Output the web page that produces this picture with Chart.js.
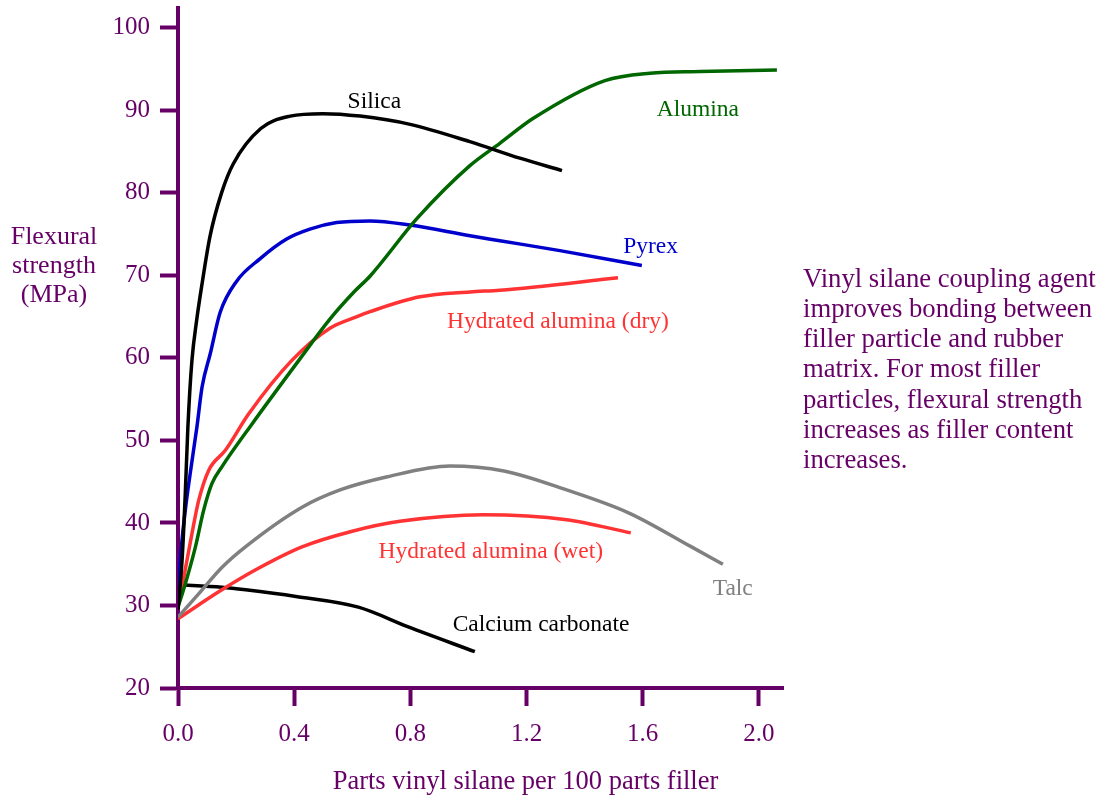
<!DOCTYPE html>
<html>
<head>
<meta charset="utf-8">
<script src="https://cdn.jsdelivr.net/npm/chart.js@4"></script>
<style>
    body { margin: 0; background: #fff; }
    #wrap { width: 1101px; height: 797px; }
</style>
</head>
<body>
<div id="wrap"><canvas id="flexChart" width="1101" height="797"></canvas></div>
<script>
// values (x = parts silane per 100 parts filler, y = MPa)
const silicaX = [0, 0.014, 0.025, 0.034, 0.048, 0.064, 0.082, 0.110, 0.150, 0.190, 0.285, 0.386, 0.499, 0.627, 0.799, 1.005, 1.177, 1.322];
const silicaY = [29.5, 35.5, 43.5, 51.6, 59.7, 64.5, 68.8, 74.7, 80.0, 83.5, 87.8, 89.3, 89.6, 89.3, 88.3, 86.2, 84.2, 82.7];

const pyrexX = [0, 0.008, 0.025, 0.042, 0.065, 0.083, 0.111, 0.145, 0.202, 0.282, 0.374, 0.454, 0.546, 0.661, 0.799, 1.005, 1.108, 1.315, 1.597];
const pyrexY = [30.2, 35.5, 41.5, 46.0, 51.6, 56.5, 60.5, 65.5, 69.3, 72.0, 74.4, 75.6, 76.4, 76.6, 76.1, 74.8, 74.2, 73.0, 71.2];

const aluminaX = [0, 0.025, 0.060, 0.088, 0.117, 0.151, 0.255, 0.416, 0.523, 0.609, 0.661, 0.823, 1.005, 1.108, 1.222, 1.470, 1.625, 1.797, 2.062];
const aluminaY = [29.8, 32.6, 37.1, 41.5, 44.8, 46.8, 52.0, 59.7, 64.7, 68.1, 69.9, 76.9, 83.3, 86.0, 89.0, 93.6, 94.5, 94.7, 94.9];

const dryX = [0, 0.020, 0.048, 0.071, 0.106, 0.163, 0.243, 0.392, 0.523, 0.616, 0.661, 0.833, 1.005, 1.108, 1.515];
const dryY = [29.8, 33.4, 38.7, 42.7, 46.4, 48.8, 53.2, 59.7, 63.6, 65.0, 65.6, 67.4, 68.0, 68.2, 69.7];

const talcX = [0, 0.071, 0.151, 0.232, 0.427, 0.558, 0.721, 0.936, 1.122, 1.338, 1.553, 1.768, 1.876];
const talcY = [28.6, 31.4, 34.6, 37.1, 41.9, 44.0, 45.6, 46.9, 46.3, 44.0, 41.2, 37.1, 35.0];

const wetX = [0, 0.151, 0.266, 0.427, 0.600, 0.764, 1.051, 1.338, 1.559];
const wetY = [28.4, 31.9, 34.3, 37.1, 39.0, 40.2, 41.0, 40.4, 38.8];

const carbonateX = [0, 0.151, 0.233, 0.406, 0.621, 0.793, 1.022];
const carbonateY = [32.5, 32.2, 31.9, 31.1, 29.8, 27.4, 24.4];

const xTicks = [0, 0.4, 0.8, 1.2, 1.6, 2.0];
const yTicks = [20, 30, 40, 50, 60, 70, 80, 90, 100];

const yTitle = ['Flexural', 'strength', '(MPa)'];
const xTitle = 'Parts vinyl silane per 100 parts filler';
const noteLines = [
    'Vinyl silane coupling agent',
    'improves bonding between',
    'filler particle and rubber',
    'matrix. For most filler',
    'particles, flexural strength',
    'increases as filler content',
    'increases.'
];

const PURPLE = '#660066';
const SERIF = '"Liberation Serif", "Times New Roman", serif';

const pts = (xs, ys) => xs.map((x, i) => ({ x: x, y: ys[i] }));

const series = [
    { name: 'Silica', data: pts(silicaX, silicaY), color: '#000000', at: [0.676, 90.33] },
    { name: 'Alumina', data: pts(aluminaX, aluminaY), color: '#006600', at: [1.790, 89.27] },
    { name: 'Pyrex', data: pts(pyrexX, pyrexY), color: '#0000cc', at: [1.627, 72.75] },
    { name: 'Hydrated alumina (dry)', data: pts(dryX, dryY), color: '#ff3333', at: [1.308, 63.61] },
    { name: 'Talc', data: pts(talcX, talcY), color: '#808080', at: [1.910, 31.21] },
    { name: 'Hydrated alumina (wet)', data: pts(wetX, wetY), color: '#ff3333', at: [1.077, 35.78] },
    { name: 'Calcium carbonate', data: pts(carbonateX, carbonateY), color: '#000000', at: [1.250, 26.85] }
];

// curve names, axis titles and the side note
const textPlugin = {
    id: 'texts',
    afterDraw(chart) {
        const ctx = chart.ctx;
        const xs = chart.scales.x, ys = chart.scales.y;
        ctx.save();
        ctx.textBaseline = 'alphabetic';

        ctx.font = '23.5px ' + SERIF;
        ctx.textAlign = 'center';
        series.forEach(s => {
            ctx.fillStyle = s.color;
            ctx.fillText(s.name, xs.getPixelForValue(s.at[0]), ys.getPixelForValue(s.at[1]));
        });

        ctx.fillStyle = PURPLE;
        ctx.font = '26px ' + SERIF;
        const yBase = [243.5, 273, 302];
        yTitle.forEach((t, i) => ctx.fillText(t, 54, yBase[i]));
        ctx.font = '26.5px ' + SERIF;
        ctx.fillText(xTitle, 525.5, 789);

        ctx.font = '26.7px ' + SERIF;
        ctx.textAlign = 'left';
        noteLines.forEach((t, i) => ctx.fillText(t, 803, 286.5 + i * 30.3));
        ctx.restore();
    }
};

const axisStyle = {
    grid: { display: true, drawOnChartArea: false, drawTicks: true, tickLength: 18, tickWidth: 4, tickColor: PURPLE, color: PURPLE },
    border: { display: true, color: PURPLE, width: 4 }
};

new Chart(document.getElementById('flexChart').getContext('2d'), {
    type: 'line',
    data: {
        datasets: series.map(s => ({
            label: s.name,
            data: s.data,
            borderColor: s.color,
            borderWidth: 3.5,
            pointRadius: 0,
            fill: false,
            cubicInterpolationMode: 'monotone'
        }))
    },
    options: {
        responsive: false,
        animation: false,
        layout: { padding: { top: 8, right: 318, left: 0, bottom: 0 } },
        plugins: { legend: { display: false }, tooltip: { enabled: false } },
        scales: {
            x: {
                type: 'linear',
                min: 0,
                max: 2.083,
                ...axisStyle,
                afterBuildTicks: s => { s.ticks = xTicks.map(v => ({ value: v })); },
                afterFit: s => { s.height = 109; s.paddingLeft = 0; s.paddingRight = 0; },
                ticks: {
                    color: PURPLE,
                    padding: 13,
                    maxRotation: 0,
                    font: { family: SERIF, size: 25 },
                    callback: v => Number(v).toFixed(1)
                }
            },
            y: {
                type: 'linear',
                min: 20,
                max: 102.4,
                ...axisStyle,
                afterBuildTicks: s => { s.ticks = yTicks.map(v => ({ value: v })); },
                afterFit: s => { s.width = 178; s.paddingTop = 0; s.paddingBottom = 0; },
                ticks: {
                    color: PURPLE,
                    padding: 10,
                    font: { family: SERIF, size: 25 },
                    callback: v => String(v)
                }
            }
        }
    },
    plugins: [textPlugin]
});
</script>
</body>
</html>
